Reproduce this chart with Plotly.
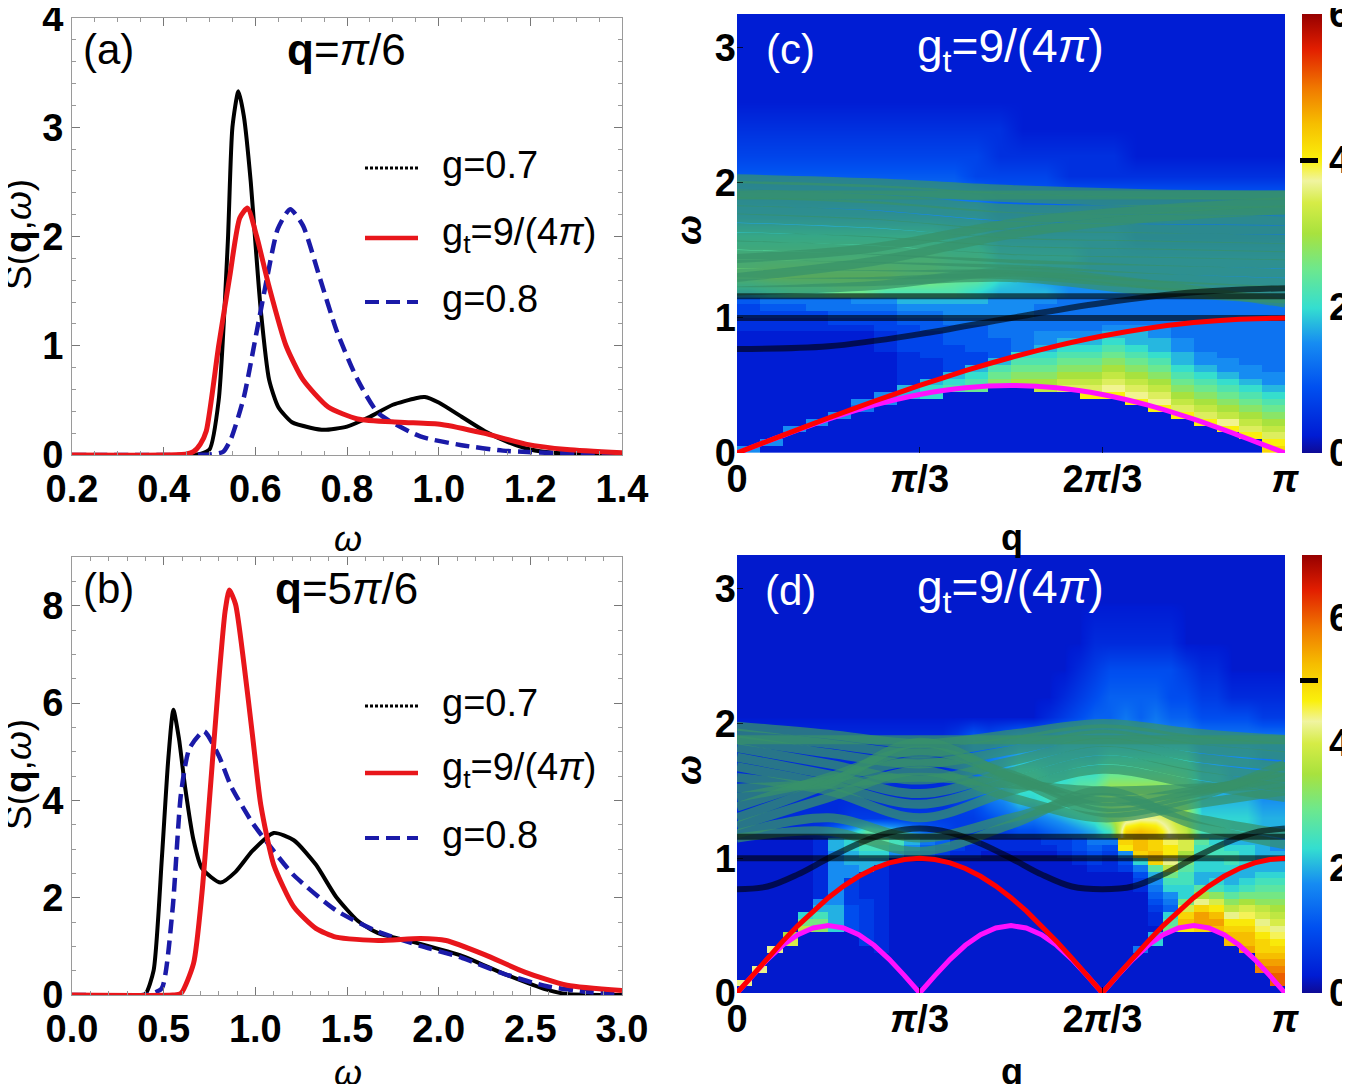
import numpy as np
import plotly.graph_objects as go

PI = np.pi
OFF = 8                       # default page margin of the written html
W, H = 1350 - OFF, 1092 - 2 * OFF
FONT = "Liberation Sans, Arial, sans-serif"

# ---------------- panel (a): q = pi/6 ----------------
a_black_w = [0.20,0.30,0.40,0.46,0.48,0.50,0.52,0.54,0.55,0.563,0.575,0.59,0.60,0.612,0.63,0.65,0.68,0.72,0.75,0.80,0.85,0.90,0.95,0.97,1.00,1.05,1.10,1.15,1.20,1.25,1.30,1.40]
a_black_s = [0,0,0,0,0.01,0.05,0.5,1.95,3.0,3.33,3.1,2.5,1.95,1.32,0.69,0.44,0.30,0.25,0.23,0.26,0.35,0.46,0.52,0.53,0.48,0.35,0.22,0.12,0.05,0.02,0.01,0]
a_red_w = [0.20,0.40,0.45,0.465,0.48,0.493,0.52,0.544,0.566,0.583,0.603,0.63,0.667,0.704,0.759,0.823,0.915,1.006,1.098,1.19,1.28,1.40]
a_red_s = [0,0,0.01,0.03,0.1,0.22,1.0,1.63,2.17,2.26,2.0,1.54,1.0,0.69,0.44,0.33,0.30,0.28,0.20,0.10,0.05,0.02]
a_blue_w = [0.20,0.45,0.50,0.53,0.547,0.575,0.603,0.626,0.649,0.676,0.704,0.74,0.778,0.823,0.869,0.96,1.05,1.14,1.30,1.40]
a_blue_s = [0,0,0.005,0.03,0.15,0.53,1.13,1.63,2.07,2.25,2.1,1.63,1.13,0.69,0.38,0.17,0.09,0.04,0.01,0]

# ---------------- panel (b): q = 5pi/6 ----------------
b_black_w = [0.0,0.35,0.40,0.445,0.49,0.525,0.553,0.583,0.617,0.663,0.709,0.81,0.892,0.984,1.10,1.21,1.33,1.44,1.56,1.67,1.90,2.13,2.36,2.59,2.70,3.0]
b_black_s = [0,0,0.02,0.5,2.8,4.84,5.86,5.28,4.27,3.18,2.6,2.31,2.53,2.96,3.33,3.18,2.68,2.02,1.52,1.27,1.05,0.8,0.43,0.11,0.02,0]
b_red_w = [0.0,0.55,0.594,0.663,0.709,0.755,0.80,0.835,0.858,0.892,0.938,0.984,1.03,1.10,1.21,1.33,1.44,1.67,1.90,2.04,2.25,2.47,2.70,3.0]
b_red_s = [0,0,0.03,0.65,2.1,4.27,6.44,7.88,8.32,8.03,6.8,5.35,3.9,2.68,1.81,1.37,1.19,1.12,1.16,1.12,0.83,0.47,0.2,0.09]
b_blue_w = [0.0,0.40,0.43,0.49,0.548,0.594,0.64,0.72,0.80,0.87,0.984,1.10,1.21,1.44,1.67,1.90,2.13,2.36,2.59,2.82,3.0]
b_blue_s = [0,0,0.02,0.14,1.74,4.12,5.06,5.42,4.92,4.27,3.54,2.96,2.46,1.74,1.3,1.01,0.76,0.43,0.18,0.06,0.02]

legend_names = ["g=0.7", "g<sub>t</sub>=9/(4<i>π</i>)", "g=0.8"]

# ---------------- heatmaps (c), (d) ----------------
w_rows = [0.025,0.075,0.125,0.175,0.225,0.275,0.325,0.375,0.425,0.475,0.525,0.575,
          0.625,0.675,0.725,0.775,0.825,0.875,0.925,0.975,1.025,1.075,1.125,
          1.2,1.3,1.45,1.6,1.75,1.9,2.05,2.2,2.4,2.6,2.9,3.2]
N_LOW = 23   # rows below the continuum (drawn as blocks); the rest drawn smoothed
# each string = one q column, bottom row -> top row; char = base-36 digit * 0.25
c_cols = [
    "6" + "1"*17 + "22" + "334" + "7BA865432111",
    "16" + "1"*16 + "22" + "345" + "8CA865432111",
    "111" + "6" + "1"*14 + "22" + "345" + "9CA865432111",
    "1111" + "6" + "1"*13 + "22" + "355" + "9CA865432111",
    "1"*5 + "6" + "1"*12 + "23" + "455" + "ACA865432111",
    "1"*6 + "56" + "1"*10 + "23" + "456" + "ACA865432111",
    "1"*7 + "66" + "111111222" + "33" + "456" + "9CA865432111",
    "1"*8 + "77" + "22222333" + "34" + "567" + "9BA865432111",
    "1"*8 + "887" + "2223333" + "44" + "567" + "9BA865432111",
    "1"*9 + "987" + "333344" + "45" + "667" + "9A9765432111",
    "1"*9 + "A987" + "33444" + "45" + "667" + "8A9765332111",
    "1"*10 + "BA97" + "4445" + "55" + "666" + "787654322111",
    "1"*10 + "CBA98" + "555" + "55" + "666" + "777654321111",
    "1"*9 + "DCBA987" + "66" + "55" + "556" + "767654321111",
    "1"*9 + "EDCBA987" + "6" + "55" + "555" + "667654221111",
    "1"*8 + "GEDCBA987" + "6" + "55" + "555" + "666654221111",
    "1"*8 + "GFEDCBA987" + "65" + "555" + "666654221111",
    "1"*7 + "GFEDCBA98776" + "5" + "555" + "666554211111",
    "1"*6 + "GFEDCBA987766" + "5" + "555" + "666554211111",
    "1"*5 + "GEDCBA987766555" + "555" + "666554211111",
    "1"*4 + "GEDCBA9876655555" + "555" + "666554211111",
    "111" + "GFDCBA98766555555" + "555" + "666554211111",
    "11" + "GEDCBA987665555555" + "555" + "666554211111",
    "HGEDCBA9876655555555" + "555" + "666554211111",
]
d_cols = [
    "1H" + "1"*21 + "222222111111",
    "111H" + "1"*19 + "222222111111",
    "1"*6 + "H" + "1"*16 + "222222111111",
    "1"*7 + "GE" + "1"*14 + "222222111111",
    "1"*9 + "FC9" + "1"*11 + "222222111111",
    "1"*9 + "DCA87" + "2"*9 + "322222111111",
    "1"*9 + "9888777" + "7777788" + "622222111111",
    "1"*9 + "44443333" + "778899" + "832222111111",
    "1"*7 + "33333332222" + "889AB" + "B32222111111",
    "1"*6 + "2"*13 + "89AB" + "A32222111111",
    "1"*20 + "79A" + "932222111111",
    "1"*20 + "578" + "732222111111",
    "1"*20 + "456" + "532222111111",
    "1"*20 + "345" + "432222111111",
    "1"*20 + "233" + "333333111111",
    "1"*20 + "223" + "334555111111",
    "1"*21 + "22" + "346764111111",
    "1"*21 + "22" + "357875111111",
    "1"*21 + "22" + "469A86111111",
    "1"*21 + "22" + "469A86111111",
    "1"*21 + "23" + "57A986211111",
    "1"*20 + "233" + "68B987321111",
    "1"*19 + "2344" + "79CA87432111",
    "1"*18 + "23456" + "8ADA87543211",
    "1"*18 + "22346" + "AEFC97554211",
    "1"*18 + "347JK" + "KGFC97654211",
    "1"*6 + "6" + "1"*8 + "2346" + "9KLL" + "LHFC97554211",
    "1"*7 + "98" + "1223" + "45678" + "BKLKK" + "KHFC97654211",
    "1"*9 + "CB9" + "5679A" + "CFHJJI" + "HGEC97544211",
    "1"*9 + "JLKGC" + "99AABCEGG" + "FEDB97543111",
    "1"*9 + "KMMKHEB" + "8899AAB" + "A98876432111",
    "1"*9 + "LMLJGDA9" + "899AA9" + "A98876432111",
    "1"*7 + "LLKJHFDB988" + "9AA98" + "998776421111",
    "1"*6 + "MLLKJIGECA988" + "9998" + "998776421111",
    "111" + "NMLKKJIHGFDCBA988" + "888" + "887766321111",
    "1" + "OONMLKJIHGFEDCBA988" + "877" + "887766321111",
]

# dispersion curves (q in units of pi)
c_q13 = [0,1/12,2/12,3/12,4/12,5/12,6/12,7/12,8/12,9/12,10/12,11/12,1]
c_red = [0,0.131,0.259,0.383,0.5,0.609,0.707,0.793,0.866,0.924,0.966,0.991,1.0]
c_mag = [0,0.129,0.25,0.354,0.433,0.483,0.5,0.483,0.433,0.354,0.25,0.129,0]
c_q7 = [0,1/6,2/6,3/6,4/6,5/6,1]
c_black = [0.77,0.79,0.88,1.0,1.11,1.19,1.22]
flat_levels = [1.0, 1.16]
c_q5 = [0,0.25,0.5,0.75,1]
c_teal = [
    [2.03,2.00,1.95,1.92,1.91],[1.98,1.95,1.89,1.86,1.85],[1.92,1.88,1.81,1.80,1.79],
    [1.86,1.83,1.75,1.73,1.72],[1.80,1.76,1.68,1.66,1.65],[1.74,1.70,1.62,1.60,1.58],
    [1.67,1.63,1.56,1.54,1.52],[1.60,1.57,1.50,1.48,1.46],[1.54,1.50,1.44,1.42,1.40],
    [1.47,1.44,1.40,1.36,1.33],[1.40,1.38,1.36,1.30,1.26],[1.33,1.32,1.32,1.25,1.20],
    [1.26,1.27,1.30,1.20,1.14],[1.20,1.24,1.34,1.25,1.11],[1.30,1.42,1.62,1.74,1.80],
    [1.44,1.52,1.70,1.80,1.86],[1.91,1.91,1.91,1.91,1.91],
]
d_q37 = [k/36 for k in range(37)]
d_red = [0,0.131,0.259,0.383,0.5,0.609,0.707,0.793,0.866,0.924,0.966,0.991,1.0,
         0.991,0.966,0.924,0.866,0.793,0.707,0.609,0.5,0.383,0.259,0.131,0,
         0.131,0.259,0.383,0.5,0.609,0.707,0.793,0.866,0.924,0.966,0.991,1.0]
d_mag = [0,0.129,0.25,0.354,0.433,0.483,0.5,0.483,0.433,0.354,0.25,0.129,0,
         0.129,0.25,0.354,0.433,0.483,0.5,0.483,0.433,0.354,0.25,0.129,0,
         0.129,0.25,0.354,0.433,0.483,0.5,0.483,0.433,0.354,0.25,0.129,0]
d_q19 = [k/18 for k in range(19)]
d_black = [0.77,0.79,0.88,1.0,1.11,1.19,1.22,1.19,1.11,1.0,0.88,0.79,0.77,0.79,0.88,1.0,1.11,1.19,1.22]
d_teal = [
    [1.98,1.92,1.85,1.92,2.00,1.93,1.88],[1.93,1.85,1.78,1.87,1.96,1.88,1.82],
    [1.88,1.78,1.70,1.80,1.92,1.82,1.76],[1.82,1.70,1.58,1.72,1.86,1.75,1.68],
    [1.75,1.62,1.48,1.64,1.80,1.68,1.60],[1.68,1.55,1.40,1.57,1.73,1.62,1.52],
    [1.60,1.50,1.30,1.50,1.66,1.55,1.45],[1.52,1.55,1.60,1.55,1.50,1.52,1.55],
    [1.45,1.58,1.72,1.60,1.42,1.50,1.60],[1.38,1.60,1.80,1.62,1.38,1.48,1.65],
    [1.30,1.55,1.86,1.60,1.34,1.45,1.70],[1.24,1.45,1.65,1.45,1.30,1.40,1.50],
    [1.18,1.30,1.15,1.30,1.45,1.30,1.18],[1.15,1.20,1.05,1.25,1.50,1.25,1.10],
    [1.88,1.88,1.88,1.88,1.88,1.88,1.88],
]
c_cmax, d_cmax = 6, 7
c_mark, d_mark = 4, 5
cbar_ticks = [0, 2, 4, 6]

CS = [[0.00,"rgb(14,10,150)"],[0.04,"rgb(0,28,212)"],[0.15,"rgb(0,80,240)"],
      [0.25,"rgb(22,140,242)"],[0.33,"rgb(52,222,208)"],[0.42,"rgb(110,232,140)"],
      [0.50,"rgb(168,226,62)"],[0.57,"rgb(214,236,70)"],[0.62,"rgb(240,244,160)"],
      [0.667,"rgb(250,240,12)"],[0.75,"rgb(246,190,0)"],[0.83,"rgb(240,122,0)"],
      [0.92,"rgb(226,30,0)"],[1.0,"rgb(150,0,0)"]]


def decode(cols):
    n = len(w_rows)
    cols = [(s + "1" * n)[:n] for s in cols]
    return [[int(cols[k][i], 36) * 0.25 for k in range(len(cols))] for i in range(n)]


def px(x, y):
    """page pixel (as in the reference picture) -> paper fraction"""
    return (x - OFF) / W, 1 - (y - OFF) / H


fig = go.Figure()


def add_line(x, y, color, width, xa, ya, dash=None, shape="spline", smooth=0.6):
    fig.add_trace(go.Scatter(x=x, y=y, mode="lines", xaxis=xa, yaxis=ya,
                             line=dict(color=color, width=width, dash=dash, shape=shape,
                                       smoothing=smooth if shape == "spline" else None),
                             showlegend=False, hoverinfo="skip"))

BLACK, RED, BLUE = "#000000", "#e8161b", "#1a1aa8"
add_line(a_black_w, a_black_s, BLACK, 4, "x", "y")
add_line(a_blue_w, a_blue_s, BLUE, 4.5, "x", "y", dash="14px,7px")
add_line(a_red_w, a_red_s, RED, 5, "x", "y")
add_line(b_black_w, b_black_s, BLACK, 4, "x2", "y2")
add_line(b_blue_w, b_blue_s, BLUE, 4.5, "x2", "y2", dash="14px,7px")
add_line(b_red_w, b_red_s, RED, 5, "x2", "y2")


def xdom(x0, x1):
    return [px(x0, 0)[0], px(x1, 0)[0]]


def ydom(ytop, ybot):
    return [px(0, ybot)[1], px(0, ytop)[1]]

dom_ax = xdom(72, 622)
dom_hx = xdom(737, 1285)
dom_a = ydom(18, 455)
dom_b = ydom(557, 995)
dom_c = ydom(14, 453)
dom_d = ydom(555, 993)

TEAL = "rgba(55,145,105,0.72)"
DARK = "rgba(0,0,0,0.6)"
tickfont = dict(family=FONT, size=38, weight="bold", color="black")


def heat_panel(cols, ncols, cmax, dom, xa, ya, teal_q, teal, black_q, black, red_q, red, mag, red_shape):
    z = decode(cols)
    common = dict(x0=PI / (2 * ncols), dx=PI / ncols, zmin=0, zmax=cmax, colorscale=CS,
                  xaxis=xa, yaxis=ya, hoverinfo="skip")
    # continuum part, smoothed
    fig.add_trace(go.Heatmap(z=z[N_LOW:], y=w_rows[N_LOW:], zsmooth="best", showscale=False, **common))
    # low-energy part, blocky columns
    fig.add_trace(go.Heatmap(
        z=z[:N_LOW], y=w_rows[:N_LOW], zsmooth=False, **common,
        colorbar=dict(x=px(1302, 0)[0], xanchor="left", xref="paper", xpad=0, ypad=0,
                      y=dom[1], yanchor="top", yref="paper", len=dom[1] - dom[0],
                      lenmode="fraction", thickness=20, thicknessmode="pixels", outlinewidth=0,
                      ticks="", tickvals=cbar_ticks, showticklabels=False)))
    for row in teal:
        add_line([q * PI for q in teal_q], row, TEAL, 9, xa, ya, smooth=1.0)
    for lv in flat_levels:
        add_line([0, PI], [lv, lv], DARK, 6, xa, ya, shape="linear")
    add_line([q * PI for q in black_q], black, DARK, 6, xa, ya, smooth=1.0)
    add_line([q * PI for q in red_q], mag, "#ff10ff", 5, xa, ya, shape=red_shape)
    add_line([q * PI for q in red_q], red, "#ff0000", 5, xa, ya, shape=red_shape)

heat_panel(c_cols, 24, c_cmax, dom_c, "x3", "y3", c_q5, c_teal, c_q7, c_black, c_q13, c_red, c_mag, "spline")
heat_panel(d_cols, 36, d_cmax, dom_d, "x4", "y4", c_q7, d_teal, d_q19, d_black, d_q37, d_red, d_mag, "linear")

line_ax = dict(showline=True, linecolor="#9a9a9a", linewidth=1, mirror="ticks", ticks="inside",
               ticklen=8, tickcolor="#777777", showgrid=False, zeroline=False, tickfont=tickfont,
               automargin=False, ticklabeloverflow="allow")
heat_ax = dict(showline=False, ticks="inside", ticklen=6, tickcolor="rgba(0,0,0,0.7)",
               showgrid=False, zeroline=False, tickfont=tickfont, automargin=False,
               ticklabeloverflow="allow")
qticks = dict(tickvals=[0, PI / 3, 2 * PI / 3, PI],
              ticktext=["0", "<i>π</i>/3", "2<i>π</i>/3", "<i>π</i>"])

fig.update_layout(
    width=W, height=H, margin=dict(l=0, r=0, t=0, b=0, autoexpand=False),
    paper_bgcolor="white", plot_bgcolor="white", showlegend=False,
    font=dict(family=FONT, color="black"),
    xaxis=dict(domain=dom_ax, anchor="y", range=[0.2, 1.4], tickvals=[0.2, 0.4, 0.6, 0.8, 1.0, 1.2, 1.4],
               ticktext=["0.2", "0.4", "0.6", "0.8", "1.0", "1.2", "1.4"],
               minor=dict(ticks="inside", ticklen=4, tickcolor="#999999", dtick=0.05), **line_ax),
    yaxis=dict(domain=dom_a, anchor="x", range=[0, 4], tickvals=[0, 1, 2, 3, 4],
               minor=dict(ticks="inside", ticklen=4, tickcolor="#999999", dtick=0.2), **line_ax),
    xaxis2=dict(domain=dom_ax, anchor="y2", range=[0, 3], tickvals=[0, 0.5, 1, 1.5, 2, 2.5, 3],
                ticktext=["0.0", "0.5", "1.0", "1.5", "2.0", "2.5", "3.0"],
                minor=dict(ticks="inside", ticklen=4, tickcolor="#999999", dtick=0.1), **line_ax),
    yaxis2=dict(domain=dom_b, anchor="x2", range=[0, 9], tickvals=[0, 2, 4, 6, 8],
                minor=dict(ticks="inside", ticklen=4, tickcolor="#999999", dtick=0.5), **line_ax),
    xaxis3=dict(domain=dom_hx, anchor="y3", range=[0, PI], **qticks, **heat_ax),
    yaxis3=dict(domain=dom_c, anchor="x3", range=[0, 3.25], tickvals=[0, 1, 2, 3], **heat_ax),
    xaxis4=dict(domain=dom_hx, anchor="y4", range=[0, PI], **qticks, **heat_ax),
    yaxis4=dict(domain=dom_d, anchor="x4", range=[0, 3.25], tickvals=[0, 1, 2, 3], **heat_ax),
)

ann = []


def text(x, y, s, size, color="black", angle=0, xanchor="center"):
    X, Y = px(x, y)
    ann.append(dict(x=X, y=Y, xref="paper", yref="paper", text=s, showarrow=False,
                    font=dict(family=FONT, size=size, color=color), textangle=angle,
                    xanchor=xanchor, yanchor="middle"))

text(108, 50, "(a)", 42)
text(347, 50, "<b>q</b>=<i>π</i>/6", 44)
text(108, 588, "(b)", 42)
text(347, 588, "<b>q</b>=5<i>π</i>/6", 44)
text(790, 50, "(c)", 42, "white")
text(1010, 50, "g<sub>t</sub>=9/(4<i>π</i>)", 46, "white")
text(790, 590, "(d)", 42, "white")
text(1010, 590, "g<sub>t</sub>=9/(4<i>π</i>)", 46, "white")
text(18, 235, "S(<b>q</b>,<i>ω</i>)", 37, angle=-90)
text(18, 775, "S(<b>q</b>,<i>ω</i>)", 37, angle=-90)
text(348, 538, "<i>ω</i>", 36)
text(348, 1072, "<i>ω</i>", 36)
text(1012, 537, "<b>q</b>", 36)
text(1012, 1071, "<b>q</b>", 36)
text(688, 230, "<b><i>ω</i></b>", 36, angle=-90)
text(688, 770, "<b><i>ω</i></b>", 36, angle=-90)

shapes = []
leg_styles = [(BLACK, 3, "3px,2px"), (RED, 4.5, None), (BLUE, 4, "14px,7px")]
for ys in ([168, 238, 302], [706, 773, 838]):
    for (col, wd, dsh), yy, name in zip(leg_styles, ys, legend_names):
        x0, y0 = px(365, yy)
        x1, _ = px(418, yy)
        shapes.append(dict(type="line", xref="paper", yref="paper", x0=x0, x1=x1, y0=y0, y1=y0,
                           line=dict(color=col, width=wd, dash=dsh)))
        text(440, yy - 3, name, 38, xanchor="left")

# colour-bar labels and black level markers
for dom, cmax, mk in ((dom_c, c_cmax, c_mark), (dom_d, d_cmax, d_mark)):
    for v in cbar_ticks:
        yv = dom[0] + v / cmax * (dom[1] - dom[0])
        ann.append(dict(x=px(1327, 0)[0], y=yv, xref="paper", yref="paper", text=str(v),
                        showarrow=False, xanchor="left", yanchor="middle",
                        font=dict(family=FONT, size=38, weight="bold", color="black")))
    ym = dom[0] + mk / cmax * (dom[1] - dom[0])
    ann.append(dict(x=px(1300, 0)[0], y=ym, xref="paper", yref="paper", text=" ",
                    showarrow=False, xanchor="left", yanchor="middle", width=18, height=5,
                    bgcolor="black", borderpad=0, borderwidth=0, font=dict(size=4)))

fig.update_layout(annotations=ann, shapes=shapes)
fig.write_html("out.html")
